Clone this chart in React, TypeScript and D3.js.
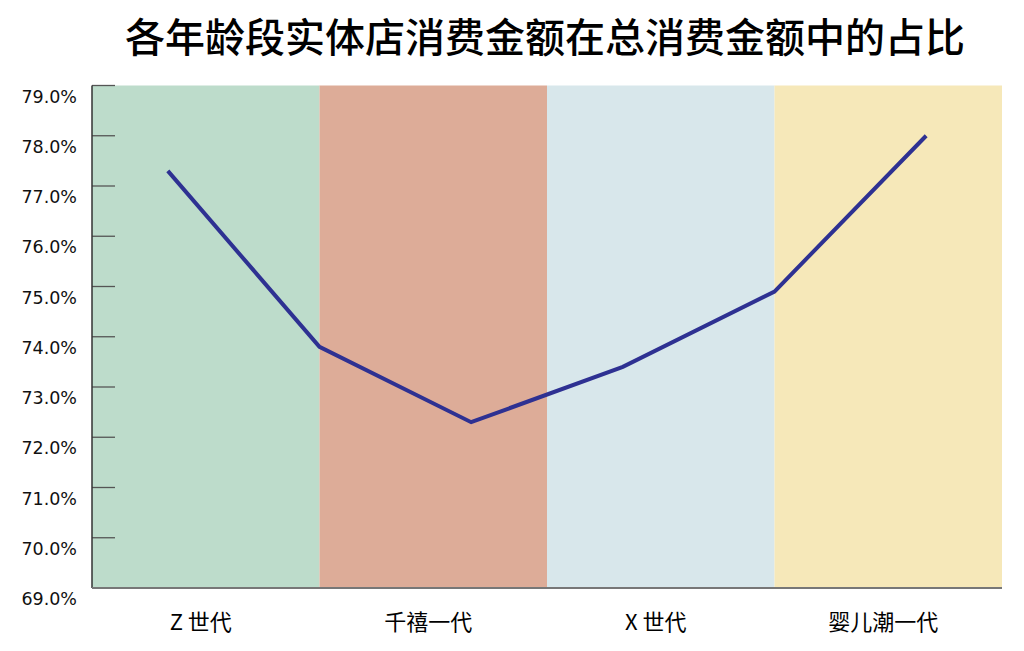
import * as d3 from 'd3';

const title = '各年龄段实体店消费金额在总消费金额中的占比';
const categories = ['Z 世代', '千禧一代', 'X 世代', '婴儿潮一代'];
const bandColors = ['#bddccb', '#ddac98', '#d8e7eb', '#f6e8b9'];
const pointIds = ['p1', 'p2', 'p3', 'p4', 'p5', 'p6'];
const shares = [77.3, 73.8, 72.3, 73.4, 74.9, 78.0];
const yTicks = [69, 70, 71, 72, 73, 74, 75, 76, 77, 78, 79];

const W = 1024;
const H = 651;
const margin = { top: 85.5, right: 22, bottom: 63, left: 92 };

export default function App() {
  const innerW = W - margin.left - margin.right;
  const innerH = H - margin.top - margin.bottom;

  const xBand = d3.scaleBand().domain(categories).range([0, innerW]).padding(0);
  const xPoint = d3.scalePoint().domain(pointIds).range([0, innerW]).padding(0.5);
  const y = d3.scaleLinear().domain([69, 79]).range([innerH, 0]);

  const line = d3
    .line<number>()
    .x((_, i) => xPoint(pointIds[i]) ?? 0)
    .y((d) => y(d));

  return (
    <svg width={W} height={H} style={{ display: 'block', position: 'absolute', left: 0, top: 0 }}>
      <rect width={W} height={H} fill="#ffffff" />
      <text
        x={545}
        y={52}
        textAnchor="middle"
        fontFamily="'Noto Sans CJK SC', sans-serif"
        fontWeight={500}
        fontSize={40}
        fill="#000"
      >
        {title}
      </text>
      <g transform={`translate(${margin.left},${margin.top})`}>
        {categories.map((c, i) => (
          <rect key={c} x={xBand(c)} y={0} width={xBand.bandwidth()} height={innerH} fill={bandColors[i]} />
        ))}
        {yTicks.map((t) => (
          <g key={t}>
            {t !== 69 && <line x1={0} x2={23} y1={y(t)} y2={y(t)} stroke="#555" strokeWidth={1.3} />}
            <text
              x={-15}
              y={y(t) + 11}
              textAnchor="end"
              dominantBaseline="central"
              fontFamily="'DejaVu Sans', sans-serif"
              fontSize={17.5}
              fill="#111"
            >
              {d3.format('.1f')(t)}%
            </text>
          </g>
        ))}
        <line x1={0} x2={0} y1={0} y2={innerH} stroke="#333" strokeWidth={1.5} />
        <line x1={0} x2={innerW} y1={innerH} y2={innerH} stroke="#777" strokeWidth={2} />
        <path d={line(shares) ?? ''} fill="none" stroke="#2e3192" strokeWidth={4} strokeLinejoin="miter" />
        {categories.map((c) => (
          <text
            key={c}
            x={(xBand(c) ?? 0) + xBand.bandwidth() / 2 - 5}
            y={innerH + 32}
            textAnchor="middle"
            dominantBaseline="central"
            fontFamily="'Noto Sans CJK SC', sans-serif"
            fontSize={22}
            fill="#000"
          >
            {c}
          </text>
        ))}
      </g>
    </svg>
  );
}
